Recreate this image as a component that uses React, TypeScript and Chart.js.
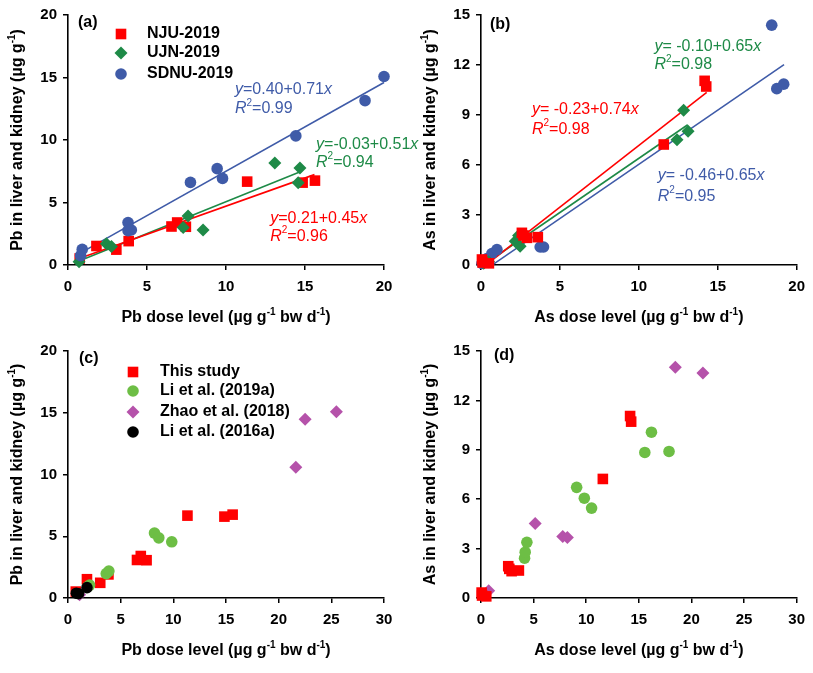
import React, { useEffect, useRef } from 'react';
import { Chart, registerables } from 'chart.js';
import { drawPoint } from 'chart.js/helpers';

Chart.register(...registerables);

const FONT = "'Liberation Sans', Arial, Helvetica, sans-serif";
const RED = '#FF0000';
const GREEN = '#1E8A47';
const BLUE = '#3F5BA8';
const LGREEN = '#6DBE45';
const PURPLE = '#B552AA';
const BLACK = '#000000';

// ---------- Panel (a): Pb ----------
const njuPbX = [0.74, 1.8, 3.06, 3.84, 6.55, 6.91, 7.46, 11.34, 14.85, 15.63];
const njuPbY = [0.52, 1.52, 1.23, 1.91, 3.08, 3.4, 3.06, 6.67, 6.59, 6.75];
const ujnPbX = [0.7, 2.43, 2.75, 7.29, 7.6, 8.55, 13.09, 14.57, 14.68];
const ujnPbY = [0.26, 1.7, 1.49, 3.01, 3.92, 2.8, 8.16, 6.59, 7.76];
const sdnuPbX = [0.8, 0.9, 3.8, 3.8, 4.01, 7.75, 9.44, 9.78, 14.42, 18.8, 20.0];
const sdnuPbY = [0.75, 1.25, 3.4, 2.75, 2.8, 6.61, 7.71, 6.93, 10.33, 13.15, 15.08];

// regression (NJU, UJN, SDNU)
const pbFitIntercept = [0.21, -0.03, 0.4];
const pbFitSlope = [0.45, 0.51, 0.71];
const pbFitStart = [0.7, 0.7, 0.8];
const pbFitEnd = [15.6, 14.7, 20.0];

// ---------- Panel (b): As ----------
const njuAsX = [0.06, 0.1, 0.5, 2.59, 2.69, 2.91, 3.6, 11.58, 14.17, 14.27];
const njuAsY = [0.33, 0.15, 0.1, 1.93, 1.77, 1.63, 1.67, 7.23, 11.05, 10.71];
const ujnAsX = [0.17, 0.48, 2.17, 2.38, 2.48, 12.42, 12.84, 13.12];
const ujnAsY = [0.1, 0.2, 1.43, 1.77, 1.12, 7.51, 9.28, 8.02];
const sdnuAsX = [0.06, 0.38, 0.69, 1.01, 3.75, 3.96, 18.42, 18.74, 19.18];
const sdnuAsY = [0.1, 0.39, 0.69, 0.92, 1.08, 1.08, 14.39, 10.58, 10.85];

const asFitIntercept = [-0.23, -0.1, -0.46];
const asFitSlope = [0.74, 0.65, 0.65];
const asFitStart = [0.1, 0.2, 0.7];
const asFitEnd = [14.3, 13.1, 19.2];

// ---------- Panel (c): Pb literature ----------
const li2019PbX = [1.89, 2.05, 3.63, 3.88, 8.21, 8.62, 9.85];
const li2019PbY = [0.92, 1.05, 1.97, 2.18, 5.26, 4.87, 4.55];
const zhaoPbX = [1.1, 21.63, 22.51, 25.48];
const zhaoPbY = [0.26, 10.58, 14.47, 15.08];
const li2016PbX = [0.79, 1.0, 1.8];
const li2016PbY = [0.39, 0.35, 0.84];

// ---------- Panel (d): As literature ----------
const li2019AsX = [4.14, 4.2, 4.36, 9.09, 9.82, 10.51, 15.57, 16.2, 17.87];
const li2019AsY = [2.42, 2.78, 3.38, 6.72, 6.06, 5.46, 8.84, 10.07, 8.9];
const zhaoAsX = [0.73, 5.15, 7.77, 8.21, 18.47, 21.09];
const zhaoAsY = [0.44, 4.53, 3.74, 3.68, 14.01, 13.67];

const legendAB = ['NJU-2019', 'UJN-2019', 'SDNU-2019'];
const legendCD = ['This study', 'Li et al. (2019a)', 'Zhao et al. (2018)', 'Li et al. (2016a)'];

type Seg = { t: string; i?: boolean; sup?: boolean };

const pts = (xs: number[], ys: number[]) => xs.map((x, i) => ({ x, y: ys[i] }));
const fit = (a: number, b: number, x0: number, x1: number) => [
  { x: x0, y: a + b * x0 },
  { x: x1, y: a + b * x1 },
];

function segFont(s: Seg, size: number, bold: boolean) {
  const sz = s.sup ? Math.round(size * 0.62) : size;
  return `${s.i ? 'italic ' : ''}${bold ? 'bold ' : ''}${sz}px ${FONT}`;
}

function drawRich(
  ctx: CanvasRenderingContext2D,
  segs: Seg[],
  x: number,
  y: number,
  size: number,
  bold: boolean,
  color: string,
  align: 'left' | 'center',
  rotate = false
) {
  ctx.save();
  ctx.fillStyle = color;
  ctx.textBaseline = 'middle';
  ctx.textAlign = 'left';
  let total = 0;
  const widths = segs.map((s) => {
    ctx.font = segFont(s, size, bold);
    const w = ctx.measureText(s.t).width;
    total += w;
    return w;
  });
  ctx.translate(x, y);
  if (rotate) ctx.rotate(-Math.PI / 2);
  let cx = align === 'center' ? -total / 2 : 0;
  segs.forEach((s, k) => {
    ctx.font = segFont(s, size, bold);
    ctx.fillText(s.t, cx, s.sup ? -size * 0.36 : 0);
    cx += widths[k];
  });
  ctx.restore();
}

type DataText = { segs: Seg[]; x: number; y: number; color: string };
type PanelSpec = {
  tag: string;
  xMax: number;
  yMax: number;
  yStep: number;
  yWidth: number;
  xHeight: number;
  padTop: number;
  padRight: number;
  xTitle: Seg[];
  yTitle: Seg[];
  tagDx: number;
  tagDy: number;
  texts: DataText[];
  legend: string[];
  legendDx: number;
  legendTextDx: number;
  legendRows: number[];
  datasets: any[];
};

function makePlugin(p: PanelSpec) {
  return {
    id: 'richText' + p.tag,
    afterDatasetsDraw(chart: any) {
      const { ctx, chartArea, scales } = chart;
      const cxm = (chartArea.left + chartArea.right) / 2;
      const cym = (chartArea.top + chartArea.bottom) / 2;
      drawRich(ctx, p.xTitle, cxm, chartArea.bottom + 53, 16, true, BLACK, 'center');
      drawRich(ctx, p.yTitle, chartArea.left - 50, cym, 16, true, BLACK, 'center', true);
      drawRich(ctx, [{ t: p.tag }], chartArea.left + p.tagDx, chartArea.top + p.tagDy, 16, true, BLACK, 'left');
      p.texts.forEach((t) => {
        drawRich(ctx, t.segs, scales.x.getPixelForValue(t.x), scales.y.getPixelForValue(t.y), 16, false, t.color, 'left');
      });
      p.legend.forEach((label, k) => {
        const ds = chart.data.datasets[k];
        const y = chartArea.top + p.legendRows[k];
        ctx.save();
        ctx.fillStyle = ds.backgroundColor;
        ctx.strokeStyle = ds.borderColor;
        drawPoint(ctx, { pointStyle: ds.pointStyle, radius: ds.pointRadius, rotation: 0, borderWidth: 0 } as any, chartArea.left + p.legendDx, y);
        ctx.restore();
        drawRich(ctx, [{ t: label }], chartArea.left + p.legendTextDx, y, 16, true, BLACK, 'left');
      });
    },
  };
}

const eq = (s: string): Seg[] => [{ t: 'y', i: true }, { t: s }, { t: 'x', i: true }];
const r2 = (s: string): Seg[] => [{ t: 'R', i: true }, { t: '2', sup: true }, { t: '=' + s }];

const sq = (data: any[], color: string, order: number) => ({
  data, pointStyle: 'rect', pointRadius: 7.5, backgroundColor: color, borderColor: color, borderWidth: 0, clip: false, order,
});
const dia = (data: any[], color: string, order: number) => ({
  data, pointStyle: 'rectRot', pointRadius: 6.5, backgroundColor: color, borderColor: color, borderWidth: 0, clip: false, order,
});
const dot = (data: any[], color: string, order: number) => ({
  data, pointStyle: 'circle', pointRadius: 5.8, backgroundColor: color, borderColor: color, borderWidth: 0, clip: false, order,
});
const line = (data: any[], color: string) => ({
  data, showLine: true, pointRadius: 0, borderColor: color, backgroundColor: color, borderWidth: 1.6, clip: false, order: 10,
});

const pbXTitle: Seg[] = [{ t: 'Pb dose level (µg g' }, { t: '-1', sup: true }, { t: ' bw d' }, { t: '-1', sup: true }, { t: ')' }];
const asXTitle: Seg[] = [{ t: 'As dose level (µg g' }, { t: '-1', sup: true }, { t: ' bw d' }, { t: '-1', sup: true }, { t: ')' }];
const pbYTitle: Seg[] = [{ t: 'Pb in liver and kidney (µg g' }, { t: '-1', sup: true }, { t: ')' }];
const asYTitle: Seg[] = [{ t: 'As in liver and kidney (µg g' }, { t: '-1', sup: true }, { t: ')' }];

const panelA: PanelSpec = {
  tag: '(a)', xMax: 20, yMax: 20, yStep: 5, yWidth: 68, xHeight: 71, padTop: 11, padRight: 56,
  xTitle: pbXTitle, yTitle: pbYTitle, tagDx: 10, tagDy: 8,
  texts: [
    { segs: eq('=0.40+0.71'), x: 10.57, y: 14.0, color: BLUE },
    { segs: r2('0.99'), x: 10.57, y: 12.5, color: BLUE },
    { segs: eq('=-0.03+0.51'), x: 15.7, y: 9.6, color: GREEN },
    { segs: r2('0.94'), x: 15.7, y: 8.2, color: GREEN },
    { segs: eq('=0.21+0.45'), x: 12.8, y: 3.7, color: RED },
    { segs: r2('0.96'), x: 12.8, y: 2.28, color: RED },
  ],
  legend: legendAB, legendDx: 53, legendTextDx: 79, legendRows: [19, 38, 59],
  datasets: [
    sq(pts(njuPbX, njuPbY), RED, 3),
    dia(pts(ujnPbX, ujnPbY), GREEN, 2),
    dot(pts(sdnuPbX, sdnuPbY), BLUE, 1),
    line(fit(pbFitIntercept[0], pbFitSlope[0], pbFitStart[0], pbFitEnd[0]), RED),
    line(fit(pbFitIntercept[1], pbFitSlope[1], pbFitStart[1], pbFitEnd[1]), GREEN),
    line(fit(pbFitIntercept[2], pbFitSlope[2], pbFitStart[2], pbFitEnd[2]), BLUE),
  ],
};

const panelB: PanelSpec = {
  tag: '(b)', xMax: 20, yMax: 15, yStep: 3, yWidth: 75, xHeight: 71, padTop: 11, padRight: 16,
  xTitle: asXTitle, yTitle: asYTitle, tagDx: 9, tagDy: 10,
  texts: [
    { segs: eq('= -0.10+0.65'), x: 10.99, y: 13.11, color: GREEN },
    { segs: r2('0.98'), x: 10.99, y: 12.0, color: GREEN },
    { segs: eq('= -0.23+0.74'), x: 3.23, y: 9.33, color: RED },
    { segs: r2('0.98'), x: 3.23, y: 8.15, color: RED },
    { segs: eq('= -0.46+0.65'), x: 11.2, y: 5.37, color: BLUE },
    { segs: r2('0.95'), x: 11.2, y: 4.13, color: BLUE },
  ],
  legend: [], legendDx: 0, legendTextDx: 0, legendRows: [],
  datasets: [
    sq(pts(njuAsX, njuAsY), RED, 1),
    dia(pts(ujnAsX, ujnAsY), GREEN, 2),
    dot(pts(sdnuAsX, sdnuAsY), BLUE, 3),
    line(fit(asFitIntercept[0], asFitSlope[0], asFitStart[0], asFitEnd[0]), RED),
    line(fit(asFitIntercept[1], asFitSlope[1], asFitStart[1], asFitEnd[1]), GREEN),
    line(fit(asFitIntercept[2], asFitSlope[2], asFitStart[2], asFitEnd[2]), BLUE),
  ],
};

const panelC: PanelSpec = {
  tag: '(c)', xMax: 30, yMax: 20, yStep: 5, yWidth: 68, xHeight: 75, padTop: 9, padRight: 20,
  xTitle: pbXTitle, yTitle: pbYTitle, tagDx: 11, tagDy: 8,
  texts: [],
  legend: legendCD, legendDx: 65, legendTextDx: 92, legendRows: [21, 40, 61, 81],
  datasets: [
    sq(pts(njuPbX, njuPbY), RED, 4),
    dot(pts(li2019PbX, li2019PbY), LGREEN, 3),
    dia(pts(zhaoPbX, zhaoPbY), PURPLE, 2),
    dot(pts(li2016PbX, li2016PbY), BLACK, 1),
  ],
};

const panelD: PanelSpec = {
  tag: '(d)', xMax: 30, yMax: 15, yStep: 3, yWidth: 75, xHeight: 75, padTop: 9, padRight: 16,
  xTitle: asXTitle, yTitle: asYTitle, tagDx: 13, tagDy: 5,
  texts: [],
  legend: [], legendDx: 0, legendTextDx: 0, legendRows: [],
  datasets: [
    sq(pts(njuAsX, njuAsY), RED, 1),
    dot(pts(li2019AsX, li2019AsY), LGREEN, 3),
    dia(pts(zhaoAsX, zhaoAsY), PURPLE, 2),
  ],
};

function buildConfig(p: PanelSpec): any {
  const tickFont = { family: FONT, size: 15, weight: 'bold' as const };
  const grid = { display: true, drawOnChartArea: false, drawTicks: true, tickLength: 5, color: BLACK, lineWidth: 1.5 };
  const border = { display: true, color: BLACK, width: 1.6 };
  return {
    type: 'scatter',
    data: { datasets: p.datasets },
    options: {
      animation: false,
      responsive: false,
      devicePixelRatio: 1,
      events: [],
      layout: { padding: { top: p.padTop, right: p.padRight, left: 0, bottom: 0 } },
      plugins: { legend: { display: false }, tooltip: { enabled: false } },
      scales: {
        x: {
          type: 'linear', min: 0, max: p.xMax,
          ticks: { stepSize: 5, font: tickFont, color: BLACK, padding: 8, maxRotation: 0 },
          grid, border,
          afterFit: (s: any) => { s.height = p.xHeight; },
        },
        y: {
          type: 'linear', min: 0, max: p.yMax,
          ticks: { stepSize: p.yStep, font: tickFont, color: BLACK, padding: 6 },
          grid, border,
          afterFit: (s: any) => { s.width = p.yWidth; },
        },
      },
    },
    plugins: [makePlugin(p)],
  };
}

function Panel({ spec, left, top, width, height }: { spec: PanelSpec; left: number; top: number; width: number; height: number }) {
  const ref = useRef<HTMLCanvasElement>(null);
  useEffect(() => {
    const chart = new Chart(ref.current as HTMLCanvasElement, buildConfig(spec));
    return () => chart.destroy();
  }, [spec]);
  return (
    <canvas
      ref={ref}
      width={width}
      height={height}
      style={{ position: 'absolute', left, top, width, height }}
    />
  );
}

export default function App() {
  useEffect(() => {
    document.body.style.margin = '0';
  }, []);
  return (
    <div style={{ position: 'absolute', left: 0, top: 0, width: 813, height: 673, background: '#fff' }}>
      <Panel spec={panelA} left={0} top={0} width={440} height={336} />
      <Panel spec={panelB} left={406} top={0} width={407} height={336} />
      <Panel spec={panelC} left={0} top={336} width={404} height={337} />
      <Panel spec={panelD} left={406} top={336} width={407} height={337} />
    </div>
  );
}
